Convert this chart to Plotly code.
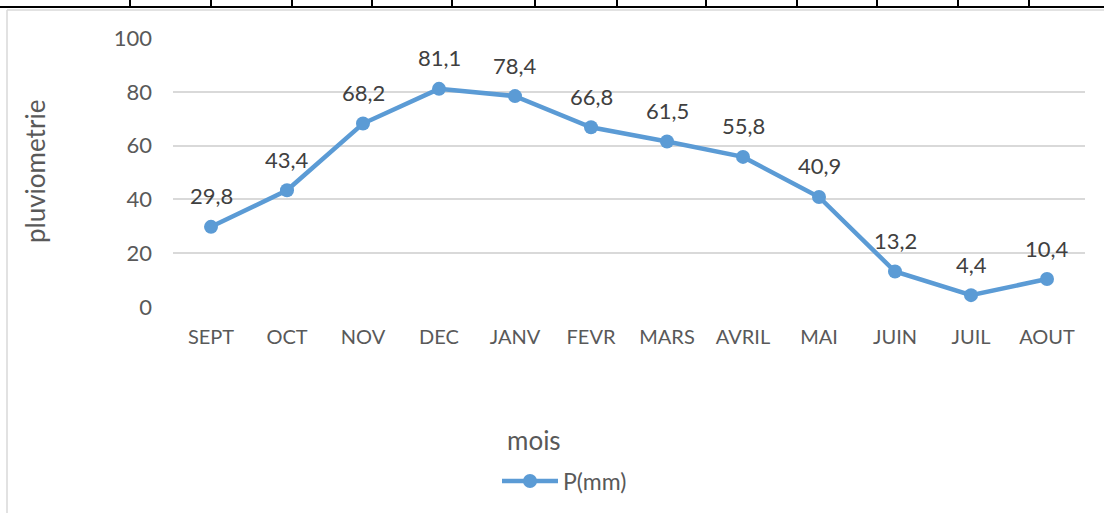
import plotly.graph_objects as go

months = ["SEPT", "OCT", "NOV", "DEC", "JANV", "FEVR", "MARS", "AVRIL", "MAI", "JUIN", "JUIL", "AOUT"]
precip = [29.8, 43.4, 68.2, 81.1, 78.4, 66.8, 61.5, 55.8, 40.9, 13.2, 4.4, 10.4]
labels = [f"{v:.1f}".replace(".", ",") for v in precip]
y_ticks = [0, 20, 40, 60, 80, 100]
series_name = "P(mm)"

W, H = 1104, 513
L, R, T, B = 173, 1085, 38, 307  # plot area in pixels

def px(x):
    return (x - L) / (R - L)

def py(y):
    return (B - y) / (B - T)

FONT = "Lato"
BLUE = "#5b9bd5"
fig = go.Figure()
fig.add_trace(go.Scatter(
    x=months, y=precip, mode="lines+markers",
    name=series_name,
    line=dict(color=BLUE, width=4.5),
    marker=dict(color=BLUE, size=14),
    cliponaxis=False,
))

annotations = []
for m, v, lab in zip(months, precip, labels):
    annotations.append(dict(x=m, y=v, xref="x", yref="y", text=lab, showarrow=False,
                            yshift=31, xanchor="center", yanchor="middle",
                            font=dict(family=FONT, size=22, color="#404040")))

shapes = []
# table border remnants at top
shapes.append(dict(type="line", xref="paper", yref="paper",
                   x0=px(0), x1=px(W), y0=py(7), y1=py(7),
                   line=dict(color="black", width=2)))
for xv in [130, 211, 292, 372, 452, 535, 617, 706, 797, 877, 958, 1029]:
    shapes.append(dict(type="line", xref="paper", yref="paper",
                       x0=px(xv), x1=px(xv), y0=py(0), y1=py(7),
                       line=dict(color="black", width=2)))
# chart area border
shapes.append(dict(type="line", xref="paper", yref="paper",
                   x0=px(7), x1=px(W), y0=py(10), y1=py(10),
                   line=dict(color="#d9d9d9", width=1.5)))
shapes.append(dict(type="line", xref="paper", yref="paper",
                   x0=px(7), x1=px(7), y0=py(10), y1=py(H),
                   line=dict(color="#d9d9d9", width=1.5)))
# legend
LEG_Y = 481
shapes.append(dict(type="line", xref="paper", yref="paper",
                   x0=px(502), x1=px(558), y0=py(LEG_Y), y1=py(LEG_Y),
                   line=dict(color=BLUE, width=4.5)))
shapes.append(dict(type="circle", xref="paper", yref="paper",
                   x0=px(523), x1=px(537), y0=py(LEG_Y + 7), y1=py(LEG_Y - 7),
                   fillcolor=BLUE, line=dict(color=BLUE, width=0)))
annotations.append(dict(text=series_name, xref="paper", yref="paper", x=px(561), y=py(LEG_Y),
                        showarrow=False, xanchor="left", yanchor="middle",
                        font=dict(family=FONT, size=23, color="#595959")))

annotations += [
    dict(text="pluviometrie", xref="paper", yref="paper", x=px(35), y=py(172),
         showarrow=False, textangle=-90, xanchor="center", yanchor="middle",
         font=dict(family=FONT, size=26, color="#595959")),
    dict(text="mois", xref="paper", yref="paper", x=px(534), y=py(440),
         showarrow=False, xanchor="center", yanchor="middle",
         font=dict(family=FONT, size=26, color="#595959")),
]

fig.update_layout(
    width=W, height=H,
    margin=dict(l=L, r=W - R, t=T, b=H - B),
    paper_bgcolor="white", plot_bgcolor="white",
    shapes=shapes, annotations=annotations,
    showlegend=False,
    xaxis=dict(showgrid=False, showline=False, zeroline=False, ticks="",
               tickfont=dict(family=FONT, size=20, color="#595959"),
               range=[-0.5, 11.5], fixedrange=True, ticklabelstandoff=16),
    yaxis=dict(range=[0, 100], tickvals=y_ticks, showgrid=True, gridcolor="#d9d9d9",
               gridwidth=1.5, zeroline=False, showline=False, ticks="",
               tickfont=dict(family=FONT, size=22, color="#595959"),
               ticklabelstandoff=20),
)
fig.write_html("out.html", config={"displayModeBar": False},
               post_script="document.body.style.margin='0';")
